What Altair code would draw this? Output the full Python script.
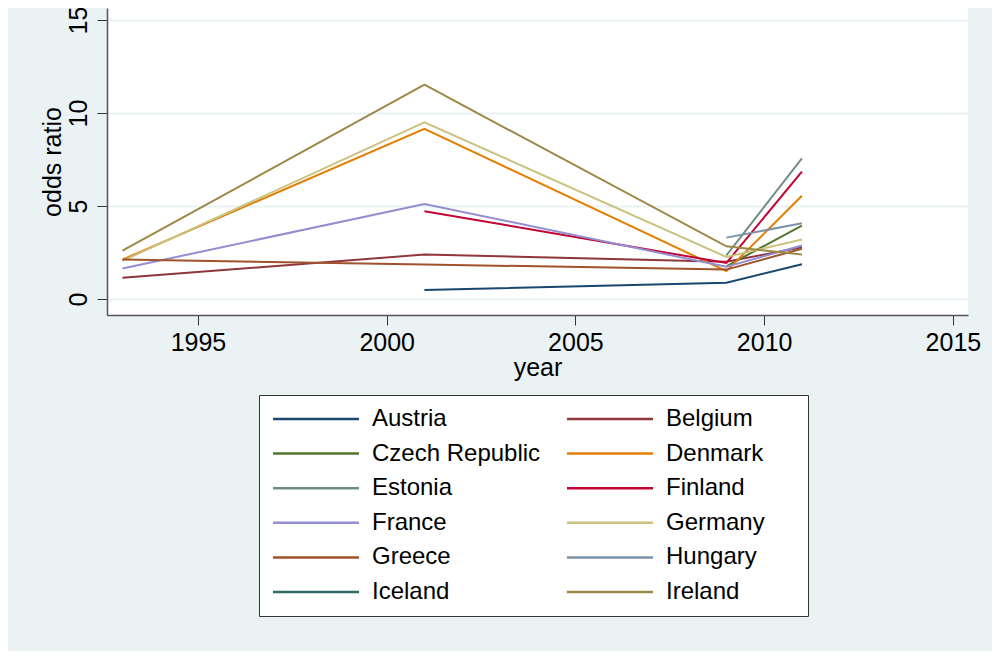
import altair as alt
import pandas as pd

years = [1993, 2001, 2009, 2011]
countries = ["Austria", "Belgium", "Czech Republic", "Denmark", "Estonia", "Finland",
             "France", "Germany", "Greece", "Hungary", "Iceland", "Ireland"]
colors = ["#1a476f", "#90353b", "#55752f", "#e37e00", "#6e8e84", "#c10534",
          "#938dd2", "#cac27e", "#a0522d", "#7b92a8", "#2d6d66", "#9c8847"]

austria = [None, 0.48, 0.88, 1.87]
belgium = [1.14, 2.39, 2.0, 2.78]
czech = [None, None, 1.76, 3.95]
denmark = [2.12, 9.15, 1.5, 5.55]
estonia = [None, None, 2.35, 7.56]
finland = [None, 4.72, 1.94, 6.85]
france = [1.64, 5.11, 1.73, 2.88]
germany = [2.05, 9.5, 2.26, 3.2]
greece = [2.12, 1.86, 1.58, 2.7]
hungary = [None, None, 3.3, 4.07]
iceland = [None, None, None, None]
ireland = [2.6, 11.52, 2.83, 2.39]

series = [austria, belgium, czech, denmark, estonia, finland,
          france, germany, greece, hungary, iceland, ireland]

rows = []
for name, vals in zip(countries, series):
    for yr, v in zip(years, vals):
        if v is not None:
            rows.append({"country": name, "year": yr, "odds": v})
df = pd.DataFrame(rows)

FONT = "Liberation Sans"

chart = alt.Chart(df).mark_line(strokeWidth=2).encode(
    x=alt.X("year:Q",
            scale=alt.Scale(domain=[1992.59, 2015.4], nice=False, zero=False),
            axis=alt.Axis(values=[1995, 2000, 2005, 2010, 2015], format="d",
                          title="year", grid=False, tickSize=10,
                          labelPadding=5, titlePadding=0)),
    y=alt.Y("odds:Q",
            scale=alt.Scale(domain=[-0.86, 15.645], nice=False, zero=False),
            axis=alt.Axis(values=[0, 5, 10, 15], title="odds ratio", grid=True,
                          tickSize=10, labelAngle=-90, labelAlign="center",
                          labelBaseline="bottom", labelPadding=6,
                          titlePadding=1)),
    color=alt.Color("country:N",
                    scale=alt.Scale(domain=countries, range=colors),
                    legend=alt.Legend(title=" ", titleOrient="right",
                                      titlePadding=31, titleFontSize=24,
                                      orient="none", legendX=152,
                                      legendY=387, columns=2,
                                      direction="horizontal",
                                      symbolType="M-4.3,0H4.3", symbolSize=400,
                                      symbolOffset=33, labelOffset=44,
                                      symbolStrokeWidth=2.5,
                                      labelFontSize=24, labelFont=FONT,
                                      labelColor="#000", columnPadding=21,
                                      rowPadding=10.6, padding=12,
                                      fillColor="white", strokeColor="#333",
                                      labelLimit=400)),
    detail="country:N",
).properties(
    width=861, height=307,
    background="#eaf2f3",
    autosize=alt.AutoSizeParams(type="none"),
    padding={"left": 99, "top": 0, "right": 24, "bottom": 336},
).configure_view(
    fill="white", stroke=None
).configure_axis(
    labelFont=FONT, titleFont=FONT, labelFontSize=25, titleFontSize=25,
    labelColor="#000", titleColor="#000", titleFontWeight="normal",
    domainColor="#555", tickColor="#333", domainWidth=1.5, tickWidth=1,
    gridColor="#eaf2f3", gridWidth=2,
)

chart.save("out.html", embed_options={"renderer": "svg", "actions": False})
